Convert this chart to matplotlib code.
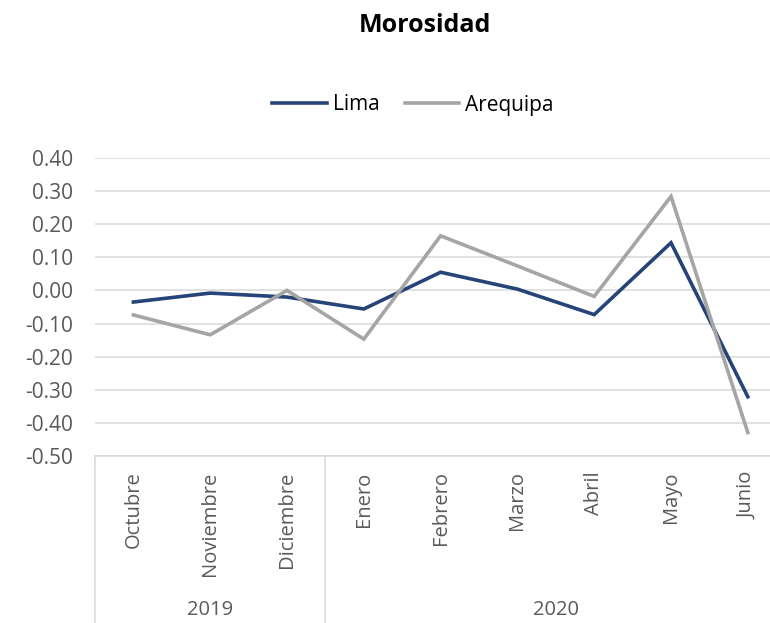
import matplotlib.pyplot as plt

plt.rcParams['font.family'] = ['Open Sans', 'DejaVu Sans']

# Data
meses = ['Octubre', 'Noviembre', 'Diciembre', 'Enero', 'Febrero',
         'Marzo', 'Abril', 'Mayo', 'Junio']
anios = ['2019', '2020']
meses_por_anio = [3, 6]
lima = [-0.035, -0.008, -0.020, -0.056, 0.055, 0.004, -0.073, 0.144, -0.321]
arequipa = [-0.074, -0.134, 0.000, -0.147, 0.165, 0.074, -0.018, 0.284, -0.429]
yticks = [0.40, 0.30, 0.20, 0.10, 0.00, -0.10, -0.20, -0.30, -0.40, -0.50]

W, H = 770, 623
fig = plt.figure(figsize=(W / 100, H / 100), dpi=100)
# plot area in pixels: left 95, top 158, bottom 456, 76.8 px per category
left, top, bottom, step = 95, 158, 456, 76.8
ax = fig.add_axes([left / W, (H - bottom) / H, len(meses) * step / W, (bottom - top) / H])

x = list(range(len(meses)))
ax.plot(x, lima, color='#264478', lw=2.6, label='Lima', solid_joinstyle='miter', zorder=3)
ax.plot(x, arequipa, color='#A5A5A5', lw=2.6, label='Arequipa', solid_joinstyle='miter', zorder=3)

ax.set_xlim(-0.5, len(meses) - 0.5)
ax.set_ylim(-0.5, 0.4)
ax.set_yticks(yticks)
ax.set_yticklabels([f'{v:.2f}' for v in yticks])
ax.yaxis.grid(True, color='#D9D9D9', lw=1.1)
ax.set_axisbelow(True)
ax.tick_params(axis='y', length=0, pad=16, labelsize=15, labelcolor='#595959')

ax.set_xticks(x)
ax.set_xticklabels(meses, rotation=90, va='top', ha='center')
ax.tick_params(axis='x', length=0, pad=11, labelsize=14.5, labelcolor='#595959')

for s in ['top', 'right', 'left']:
    ax.spines[s].set_visible(False)
ax.spines['bottom'].set_color('#D9D9D9')
ax.spines['bottom'].set_linewidth(1.1)

# multi-level category axis: separators and year labels
tr = ax.get_xaxis_transform()
y_end = -(H - bottom) / (bottom - top)
y_year = -(610 - bottom) / (bottom - top)
pos = -0.5
for anio, n in zip(anios, meses_por_anio):
    ax.plot([pos, pos], [0, y_end], color='#D9D9D9', lw=1.1, transform=tr, clip_on=False)
    ax.text(pos + n / 2, y_year, anio, transform=tr, ha='center', va='center',
            fontsize=14.5, color='#595959')
    pos += n

fig.text(425 / W, 1 - 25 / H, 'Morosidad', ha='center', va='center',
         fontsize=18, fontweight='bold', color='black')

fig.legend(loc='center', bbox_to_anchor=(413 / W, 1 - 105 / H), ncol=2, frameon=False,
           fontsize=15, handlelength=2.6, columnspacing=1.2, handletextpad=0.3,
           labelcolor='black')

fig.savefig('out.png', dpi=100)
